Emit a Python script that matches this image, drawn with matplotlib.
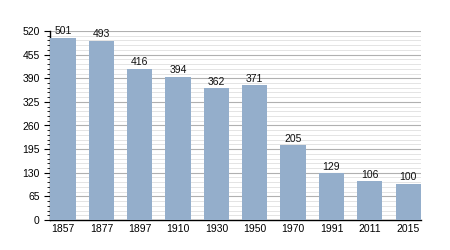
import matplotlib.pyplot as plt
from matplotlib.ticker import MultipleLocator

plt.rcParams['font.family'] = ['Liberation Sans', 'DejaVu Sans']

annees = ['1857', '1877', '1897', '1910', '1930', '1950', '1970', '1991', '2011', '2015']
population = [501, 493, 416, 394, 362, 371, 205, 129, 106, 100]

fig = plt.figure(figsize=(4.5, 2.5), dpi=100)
ax = fig.add_axes([0.111, 0.12, 0.825, 0.756])

x = list(range(len(annees)))
barres = ax.bar(x, population, width=0.66, color='#94aecb', zorder=3)

# etiquettes au-dessus des barres
for xi, v in zip(x, population):
    ax.text(xi, v + 4, str(v), ha='center', va='bottom', fontsize=7.5, color='#111111')

ax.set_ylim(0, 520)
ax.set_xlim(-0.34, 9.34)
ax.yaxis.set_major_locator(MultipleLocator(65))
ax.yaxis.set_minor_locator(MultipleLocator(13))
ax.grid(axis='y', which='major', color='#b0b0b0', linewidth=0.8, zorder=0)
ax.grid(axis='y', which='minor', color='#e4e4e4', linewidth=0.7, zorder=0)

ax.set_xticks(x)
ax.set_xticklabels(annees)
ax.tick_params(axis='x', length=0, labelsize=7.5, pad=3)
ax.tick_params(axis='y', which='major', length=4, labelsize=7.5, direction='out')
ax.tick_params(axis='y', which='minor', length=2, direction='out')

for s in ['top', 'right']:
    ax.spines[s].set_visible(False)
ax.spines['left'].set_linewidth(1)
ax.spines['bottom'].set_linewidth(1)

plt.savefig('out.png', dpi=100)
